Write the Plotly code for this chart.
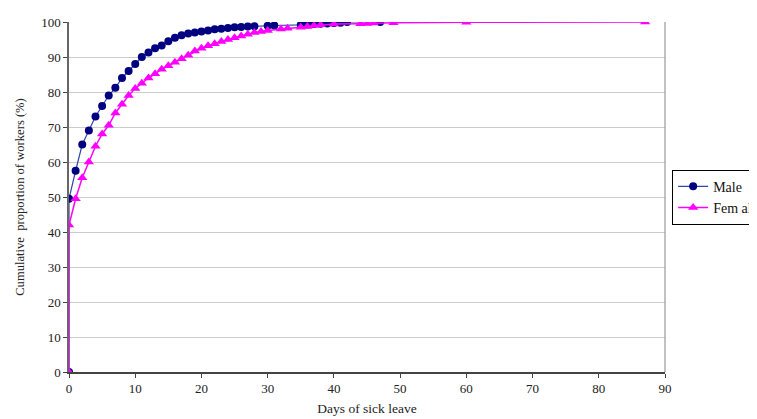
import plotly.graph_objects as go

male_days = [0, 0, 1, 2, 3, 4, 5, 6, 7, 8, 9, 10, 11, 12, 13, 14, 15, 16, 17, 18, 19, 20,
             21, 22, 23, 24, 25, 26, 27, 28, 30, 31, 35, 36, 37, 38, 39, 40, 41, 42, 47]
male_pct = [0, 49.5, 57.5, 65, 69, 73, 76, 79, 81.2, 84, 86, 88, 90, 91.3, 92.5, 93.3, 94.5,
            95.5, 96.2, 96.7, 97, 97.3, 97.6, 97.9, 98.1, 98.3, 98.5, 98.6, 98.7, 98.8, 98.9,
            99.0, 99.2, 99.3, 99.4, 99.5, 99.6, 99.7, 99.8, 100, 100]

female_days = [0, 0, 1, 2, 3, 4, 5, 6, 7, 8, 9, 10, 11, 12, 13, 14, 15, 16, 17, 18, 19, 20,
               21, 22, 23, 24, 25, 26, 27, 28, 29, 30, 32, 33, 35, 36, 37, 38, 40, 44, 45, 46,
               49, 60, 87]
female_pct = [0, 42, 49.5, 55.5, 60, 64.5, 68, 70.5, 74, 76.5, 79, 81, 82.5, 84, 85.2, 86.5,
              87.5, 88.5, 89.5, 90.5, 91.7, 92.5, 93.2, 93.8, 94.4, 95, 95.5, 96, 96.5, 97,
              97.3, 97.6, 98, 98.2, 98.5, 98.7, 99, 99.2, 99.4, 99.5, 99.6, 99.7, 99.8, 99.9, 100]

x_ticks = [0, 10, 20, 30, 40, 50, 60, 70, 80, 90]
y_ticks = [0, 10, 20, 30, 40, 50, 60, 70, 80, 90, 100]

font_family = "Liberation Serif, Times New Roman, serif"

fig = go.Figure()
fig.add_trace(go.Scatter(
    x=male_days, y=male_pct, name="Male", mode="lines+markers", legendgroup="m",
    line=dict(color="#3344AA", width=1.2),
    marker=dict(symbol="circle", size=8, color="#000080"),
))
fig.add_trace(go.Scatter(
    x=female_days, y=female_pct, name="Fem ale", mode="lines+markers", legendgroup="f",
    line=dict(color="#FF00FF", width=1.5),
    marker=dict(symbol="triangle-up", size=9, color="#FF00FF"),
))

fig.update_layout(
    width=749, height=411,
    margin=dict(l=61, r=92, t=14, b=47, autoexpand=False),
    paper_bgcolor="white", plot_bgcolor="white",
    font=dict(family=font_family, size=13, color="#222222"),
    showlegend=True,
    legend=dict(
        x=1.012, y=0.578, xanchor="left", yanchor="top",
        bordercolor="#000000", borderwidth=1, bgcolor="white",
        font=dict(family=font_family, size=14, color="#111111"),
        traceorder="grouped", tracegroupgap=0,
    ),
    xaxis=dict(
        range=[0, 90], tickvals=x_ticks, showgrid=False, zeroline=False,
        showline=True, linecolor="#444444", linewidth=1.5, mirror=False,
        ticks="outside", ticklen=4, tickcolor="#444444",
        title=dict(text="Days of sick leave", font=dict(size=13.5), standoff=8),
        tickfont=dict(size=13),
    ),
    yaxis=dict(
        range=[0, 100], tickvals=y_ticks, showgrid=True, gridcolor="#CCCCCC", gridwidth=1.2,
        zeroline=False, showline=True, linecolor="#666666", linewidth=1.5,
        ticks="outside", ticklen=4, tickcolor="#444444",
        title=dict(text="Cumulative  proportion of workers (%)", font=dict(size=12.6), standoff=14),
        tickfont=dict(size=13),
    ),
)

# right border of the plot area
fig.add_shape(type="line", xref="paper", yref="paper", x0=1, x1=1, y0=0, y1=1,
              line=dict(color="#999999", width=1.2))

fig.write_html("out.html")
